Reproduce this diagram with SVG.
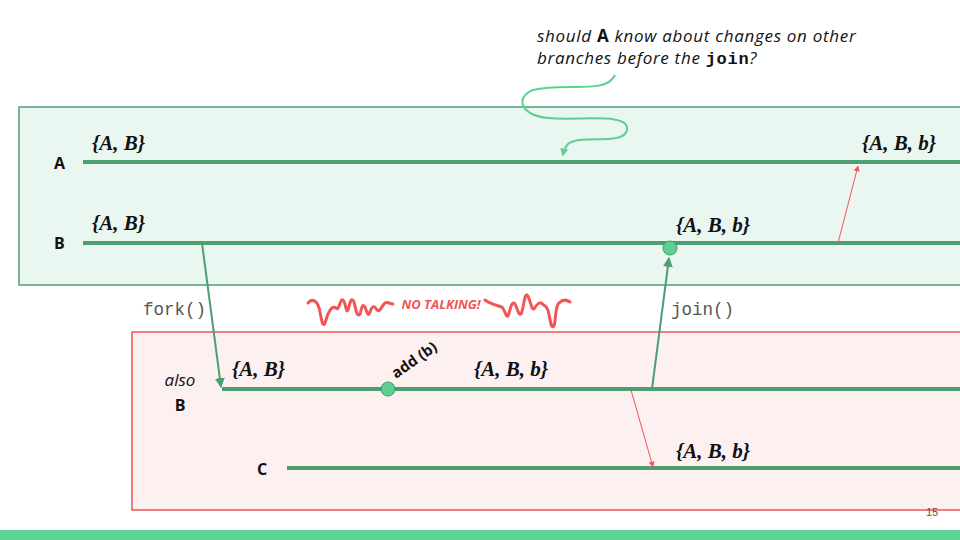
<svg xmlns="http://www.w3.org/2000/svg" width="960" height="540" viewBox="0 0 960 540">
<defs>
<marker id="ag" viewBox="0 0 10 10" refX="9" refY="5" markerWidth="5" markerHeight="5" orient="auto" markerUnits="strokeWidth">
<path d="M0,0 L10,5 L0,10 z" fill="#4e9e72"/>
</marker>
<marker id="ag2" viewBox="0 0 10 10" refX="8" refY="5" markerWidth="4" markerHeight="4" orient="auto" markerUnits="strokeWidth">
<path d="M0,0 L10,5 L0,10 z" fill="#5dcf92"/>
</marker>
<marker id="ar" viewBox="0 0 10 10" refX="9" refY="5" markerWidth="6" markerHeight="6" orient="auto" markerUnits="strokeWidth">
<path d="M0,0 L10,5 L0,10 z" fill="#f25555"/>
</marker>
</defs>
<style>
.lane{stroke:#4e9e72;stroke-width:4;fill:none}
.set{font-family:"Liberation Serif",serif;font-weight:bold;font-style:italic;font-size:21px;fill:#111}
.lbl{font-family:"Open Sans","Liberation Sans",sans-serif;font-weight:bold;font-size:16px;fill:#111}
.code{font-family:"Liberation Mono",monospace;font-size:17.5px;fill:#555}
.garrow{stroke:#4e9e72;stroke-width:2;fill:none;marker-end:url(#ag)}
.rarrow{stroke:#f25555;stroke-width:1;fill:none;marker-end:url(#ar)}
.dot{fill:#5dcf92;stroke:#3c9a68;stroke-width:1}
.squig{stroke:#f25555;stroke-width:3;fill:none;stroke-linecap:round;stroke-linejoin:round}
</style>
<rect width="960" height="540" fill="#ffffff"/>
<g id="regionA">
<rect x="19" y="107" width="960" height="178" fill="#eaf7f0" stroke="#4e9e72" stroke-width="1.5"/>
</g>
<g id="regionFork">
<rect x="132" y="332" width="840" height="178" fill="#fdf0f0" stroke="#f25555" stroke-width="1.5"/>
</g>
<rect x="0" y="530" width="960" height="10" fill="#5fd394"/>
<text x="932" y="516" font-family="'Liberation Sans',sans-serif" font-size="11" fill="#555" text-anchor="middle">15</text>

<g id="laneA">
<text class="lbl" x="54" y="169">A</text>
<line class="lane" x1="83" y1="162" x2="960" y2="162"/>
<text class="set" x="92" y="150">{A, B}</text>
<text class="set" x="862" y="150">{A, B, b}</text>
</g>
<g id="laneB">
<text class="lbl" x="54" y="249">B</text>
<line class="lane" x1="83" y1="243" x2="960" y2="243"/>
<text class="set" x="92" y="230">{A, B}</text>
<text class="set" x="676" y="232">{A, B, b}</text>
</g>
<g id="laneAlsoB">
<text x="180" y="386" font-family="'Open Sans','Liberation Sans',sans-serif" font-style="italic" font-size="17" fill="#111" text-anchor="middle">also</text>
<text class="lbl" x="180" y="411" text-anchor="middle">B</text>
<line class="lane" x1="222" y1="389" x2="960" y2="389"/>
<text class="set" x="232" y="376">{A, B}</text>
<text class="set" x="474" y="376">{A, B, b}</text>
</g>
<g id="laneC">
<text class="lbl" x="262" y="475" text-anchor="middle">C</text>
<line class="lane" x1="287" y1="468" x2="960" y2="468"/>
<text class="set" x="676" y="458">{A, B, b}</text>
</g>

<g id="connectors">
<line class="garrow" x1="202" y1="243" x2="221" y2="387"/>
<line class="garrow" x1="652" y1="389" x2="669" y2="258"/>
<line class="rarrow" x1="838" y1="243" x2="858" y2="166"/>
<line class="rarrow" x1="631" y1="390" x2="653" y2="467"/>
<path d="M615 75 C606 95 565 82 533 90 C515 97 520 115 548 118 C580 121 630 112 627 130 C624 146 580 134 568 144 C565 147 564 150 563 155" stroke="#5dcf92" stroke-width="2" fill="none" marker-end="url(#ag2)"/>
</g>

<g id="addEvent">
<circle class="dot" cx="388" cy="389" r="7"/>
<text x="396" y="379" font-family="'Open Sans','Liberation Sans',sans-serif" font-weight="bold" font-size="15" fill="#111" transform="rotate(-35 396 379)">add (b)</text>
</g>
<g id="joinEvent">
<circle class="dot" cx="670" cy="248" r="7"/>
</g>
<text class="code" x="143" y="315">fork()</text>
<text class="code" x="671" y="315">join()</text>

<g id="noTalking">
<path class="squig" d="M308 303 C312 298 318 300 320 312 C322 322 323 330 326 320 C328 312 332 305 336 308 C339 312 340 298 343 300 C346 303 346 314 348 310 C350 303 351 296 354 302 C356 310 357 318 360 314 C362 308 362 303 365 307 C367 312 368 318 370 312 C372 306 374 305 377 310 C380 313 382 305 385 303 C387 301 390 304 393 304"/>
<text x="441" y="309" font-family="'Open Sans','Liberation Sans',sans-serif" font-weight="bold" font-style="italic" font-size="13" fill="#f25555" text-anchor="middle">NO TALKING!</text>
<path class="squig" d="M485 300 C490 304 496 305 502 307 C505 310 506 318 508 316 C510 312 511 302 514 303 C517 305 518 316 521 314 C524 308 524 294 527 295 C530 297 531 310 534 309 C536 306 538 302 541 303 C544 305 546 306 548 310 C550 318 551 330 554 326 C556 320 555 306 559 303 C562 300 566 299 570 302"/>
</g>

<g id="question" font-family="'Open Sans','Liberation Sans',sans-serif" font-style="italic" font-size="17" fill="#111" letter-spacing="0.7">
<text x="537" y="42">should <tspan font-weight="bold" font-style="normal">A</tspan> know about changes on other</text>
<text x="537" y="64">branches before the <tspan font-family="'Liberation Mono',monospace" font-weight="bold" font-style="normal">join</tspan>?</text>
</g>
</svg>
